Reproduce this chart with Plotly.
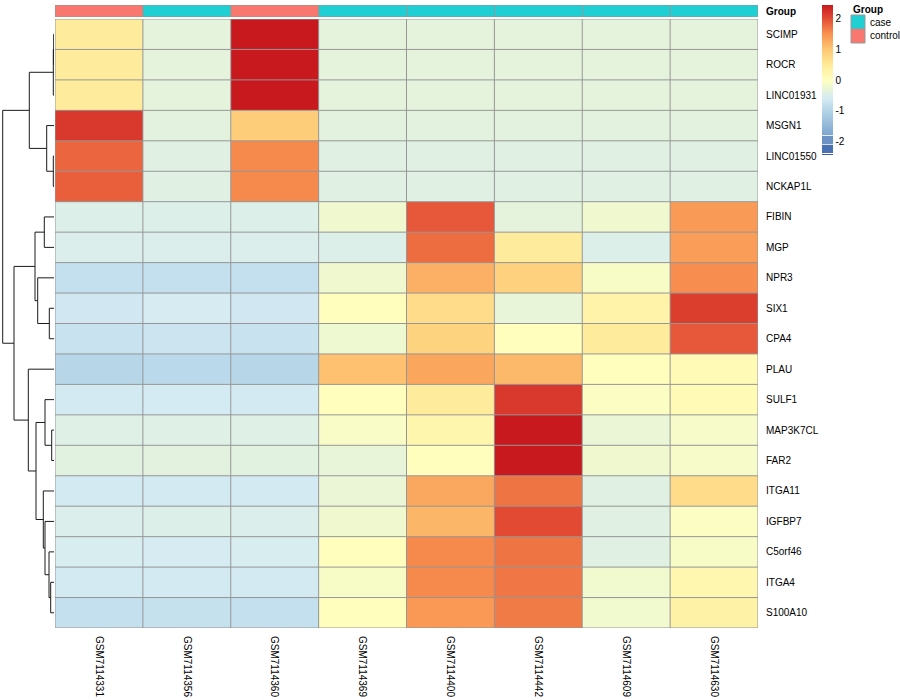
import plotly.graph_objects as go

# ---------------- data ----------------
samples = ["GSM7114331", "GSM7114356", "GSM7114360", "GSM7114369",
           "GSM7114400", "GSM7114442", "GSM7114609", "GSM7114630"]
groups = ["control", "case", "control", "case", "case", "case", "case", "case"]
genes = ["SCIMP", "ROCR", "LINC01931", "MSGN1", "LINC01550", "NCKAP1L",
         "FIBIN", "MGP", "NPR3", "SIX1", "CPA4", "PLAU", "SULF1", "MAP3K7CL",
         "FAR2", "ITGA11", "IGFBP7", "C5orf46", "ITGA4", "S100A10"]

SCIMP     = [0.45, -0.35, 2.42, -0.35, -0.35, -0.35, -0.35, -0.35]
ROCR      = [0.45, -0.35, 2.42, -0.35, -0.35, -0.35, -0.35, -0.35]
LINC01931 = [0.45, -0.35, 2.42, -0.35, -0.35, -0.35, -0.35, -0.35]
MSGN1     = [2.15, -0.38, 0.90, -0.38, -0.38, -0.38, -0.38, -0.38]
LINC01550 = [1.80, -0.42, 1.55, -0.42, -0.42, -0.42, -0.42, -0.42]
NCKAP1L   = [1.85, -0.42, 1.55, -0.42, -0.42, -0.42, -0.42, -0.42]
FIBIN     = [-0.48, -0.48, -0.48, -0.20, 1.90, -0.35, -0.20, 1.40]
MGP       = [-0.50, -0.50, -0.50, -0.48, 1.75, 0.45, -0.48, 1.38]
NPR3      = [-0.80, -0.80, -0.80, -0.20, 1.20, 0.85, -0.10, 1.52]
SIX1      = [-0.65, -0.58, -0.65, 0.02, 0.70, -0.30, 0.28, 2.10]
CPA4      = [-0.75, -0.72, -0.75, -0.22, 0.82, 0.02, 0.45, 1.90]
PLAU      = [-0.95, -0.92, -0.95, 1.05, 1.30, 1.12, 0.03, 0.10]
SULF1     = [-0.62, -0.60, -0.62, 0.02, 0.45, 2.15, -0.05, 0.10]
MAP3K7CL  = [-0.45, -0.45, -0.45, -0.08, 0.22, 2.42, -0.27, -0.12]
FAR2      = [-0.40, -0.38, -0.40, -0.30, 0.02, 2.42, -0.20, -0.12]
ITGA11    = [-0.62, -0.62, -0.62, -0.28, 1.28, 1.70, -0.42, 0.70]
IGFBP7    = [-0.50, -0.48, -0.50, -0.20, 1.15, 2.00, -0.42, -0.05]
C5orf46   = [-0.55, -0.58, -0.55, 0.03, 1.55, 1.70, -0.42, -0.10]
ITGA4     = [-0.62, -0.62, -0.62, -0.10, 1.55, 1.68, -0.18, 0.20]
S100A10   = [-0.80, -0.78, -0.80, 0.03, 1.42, 1.65, -0.18, 0.32]

values = [SCIMP, ROCR, LINC01931, MSGN1, LINC01550, NCKAP1L, FIBIN, MGP, NPR3,
          SIX1, CPA4, PLAU, SULF1, MAP3K7CL, FAR2, ITGA11, IGFBP7, C5orf46,
          ITGA4, S100A10]

# row dendrogram, hclust style: negative = leaf (1-based), positive = earlier merge
dendro_merge = [(-1, -2), (1, -3), (-5, -6), (-4, 3), (2, 4),
                (-7, -8), (-10, -11), (-9, 7), (6, 8),
                (-14, -15), (-13, 10), (-19, -20), (-18, 12), (-17, 13),
                (-16, 14), (11, 15), (-12, 16), (9, 17), (5, 18)]
dendro_height = [0.3, 0.7, 0.7, 7.3, 24.7,
                 9.7, 4.7, 16.3, 19.0,
                 2.3, 9.0, 3.3, 5.0, 9.0,
                 10.7, 18.0, 25.7, 40.0, 51.3]

legend_ticks = [-2, -1, 0, 1, 2]
legend_labels = ["-2", "-1", "0", "1", "2"]
group_levels = ["case", "control"]

# ---------------- style ----------------
W, H = 900, 700
FONT = "Liberation Sans, Arial, Helvetica, sans-serif"
zmin, zmax = -2.42, 2.42
group_colors = {"case": "#1FCFD4", "control": "#F8776F"}
grid_color = "#969696"

stops = [(-2.42, "#3B5FA8"), (-2.385, "#3B5FA8"), (-2.38, "#FFFFFF"), (-2.355, "#FFFFFF"),
         (-2.35, "#4A72B2"), (-2.085, "#4A72B2"), (-2.08, "#FFFFFF"), (-2.055, "#FFFFFF"),
         (-2.05, "#6C93C4"), (-1.795, "#6C93C4"), (-1.79, "#FFFFFF"), (-1.765, "#FFFFFF"),
         (-1.76, "#7FA7CF"), (-1.0, "#B3D4E7"), (-0.6, "#D5EBF4"), (-0.3, "#E8F5D8"),
         (0.0, "#FFFFBF"), (0.5, "#FEEA98"), (1.0, "#FDC673"), (1.5, "#F8904F"),
         (2.0, "#E24A33"), (2.42, "#C8191E")]
colorscale = [[(v - zmin) / (zmax - zmin), c] for v, c in stops]

# pixel layout
hx0, hx1 = 55, 758
hy0, hy1 = 19, 628
ay0, ay1 = 5, 17
dx1 = 54

def px_x(p):
    return p / W

def px_y(p):
    return 1 - p / H

nrow, ncol = len(genes), len(samples)

fig = go.Figure()

# main heatmap
fig.add_trace(go.Heatmap(
    z=values, x=list(range(ncol)), y=list(range(nrow)),
    zmin=zmin, zmax=zmax, colorscale=colorscale,
    xaxis="x", yaxis="y",
    colorbar=dict(
        x=px_x(822), xanchor="left", y=px_y(5), yanchor="top",
        lenmode="pixels", len=150, thicknessmode="pixels", thickness=11,
        outlinewidth=0, tickvals=legend_ticks, ticktext=legend_labels, ticks="",
        tickfont=dict(family=FONT, size=10, color="#000"), xpad=0, ypad=0,
    ),
    hoverinfo="skip",
))

# annotation bar
fig.add_trace(go.Heatmap(
    z=[[group_levels.index(g) for g in groups]], x=list(range(ncol)), y=[0],
    zmin=0, zmax=1,
    colorscale=[[0, group_colors["case"]], [0.5, group_colors["case"]],
                [0.5, group_colors["control"]], [1, group_colors["control"]]],
    showscale=False, xaxis="x", yaxis="y2", hoverinfo="skip",
))

# dendrogram from merge table
node_y, node_h = {}, {}
dx, dy = [], []
def pos(ref):
    if ref < 0:
        return -ref - 1, 0.0
    return node_y[ref], node_h[ref]
for i, ((a, b), h) in enumerate(zip(dendro_merge, dendro_height), start=1):
    ya, ha = pos(a)
    yb, hb = pos(b)
    dx += [ha, h, h, hb, None]
    dy += [ya, ya, yb, yb, None]
    node_y[i] = (ya + yb) / 2
    node_h[i] = h
fig.add_trace(go.Scatter(x=dx, y=dy, mode="lines", xaxis="x2", yaxis="y",
                         line=dict(color="#1a1a1a", width=1), hoverinfo="skip",
                         showlegend=False))

# cell borders
shapes = []
for i in range(ncol + 1):
    shapes.append(dict(type="line", xref="x", yref="y", x0=i - 0.5, x1=i - 0.5,
                       y0=-0.5, y1=nrow - 0.5, line=dict(color=grid_color, width=1)))
    shapes.append(dict(type="line", xref="x", yref="y2", x0=i - 0.5, x1=i - 0.5,
                       y0=-0.5, y1=0.5, line=dict(color=grid_color, width=1)))
for j in range(nrow + 1):
    shapes.append(dict(type="line", xref="x", yref="y", x0=-0.5, x1=ncol - 0.5,
                       y0=j - 0.5, y1=j - 0.5, line=dict(color=grid_color, width=1)))
for j in range(2):
    shapes.append(dict(type="line", xref="x", yref="y2", x0=-0.5, x1=ncol - 0.5,
                       y0=j - 0.5, y1=j - 0.5, line=dict(color=grid_color, width=1)))

# group legend
annotations = [dict(text="<b>Group</b>", x=px_x(851), y=px_y(9), xref="paper", yref="paper",
                    xanchor="left", yanchor="middle", showarrow=False,
                    font=dict(family=FONT, size=10, color="#000"))]
for k, lev in enumerate(group_levels):
    top = 15 + 14 * k
    shapes.append(dict(type="rect", xref="paper", yref="paper",
                       x0=px_x(851), x1=px_x(865), y0=px_y(top), y1=px_y(top + 14),
                       fillcolor=group_colors[lev], line=dict(color="#999999", width=1)))
    annotations.append(dict(text=lev, x=px_x(868), y=px_y(top + 7), xref="paper", yref="paper",
                            xanchor="left", yanchor="middle", showarrow=False,
                            font=dict(family=FONT, size=10, color="#000")))

fig.update_layout(
    width=W, height=H, autosize=False,
    margin=dict(l=0, r=0, t=0, b=0, pad=0, autoexpand=False),
    paper_bgcolor="white", plot_bgcolor="white",
    font=dict(family=FONT, size=10, color="#000"),
    showlegend=False,
    shapes=shapes, annotations=annotations,
    xaxis=dict(domain=[px_x(hx0), px_x(hx1)], range=[-0.5, ncol - 0.5],
               tickvals=list(range(ncol)), ticktext=samples, tickangle=90,
               ticks="outside", ticklen=5, tickcolor="rgba(0,0,0,0)",
               tickfont=dict(family=FONT, size=10, color="#000"), automargin=False,
               showgrid=False, zeroline=False, showline=False, anchor="y"),
    yaxis=dict(domain=[px_y(hy1), px_y(hy0)], range=[nrow - 0.5, -0.5],
               tickvals=list(range(nrow)), ticktext=genes, side="right",
               ticks="outside", ticklen=5, tickcolor="rgba(0,0,0,0)",
               tickfont=dict(family=FONT, size=10, color="#000"), automargin=False,
               showgrid=False, zeroline=False, showline=False, anchor="x"),
    yaxis2=dict(domain=[px_y(ay1), px_y(ay0)], range=[0.5, -0.5],
                tickvals=[0], ticktext=["<b>Group</b>"], side="right",
                ticks="outside", ticklen=5, tickcolor="rgba(0,0,0,0)",
                tickfont=dict(family=FONT, size=10, color="#000"), automargin=False,
                showgrid=False, zeroline=False, showline=False, anchor="x"),
    xaxis2=dict(domain=[0, px_x(dx1)], range=[max(dendro_height) * dx1 / (dx1 - 2.7), 0],
                showticklabels=False, ticks="", showgrid=False, zeroline=False,
                showline=False, anchor="y", automargin=False),
)

fig.write_html("out.html", config={"displayModeBar": False, "staticPlot": True},
               post_script="document.body.style.margin='0px';document.body.style.overflow='hidden';")
